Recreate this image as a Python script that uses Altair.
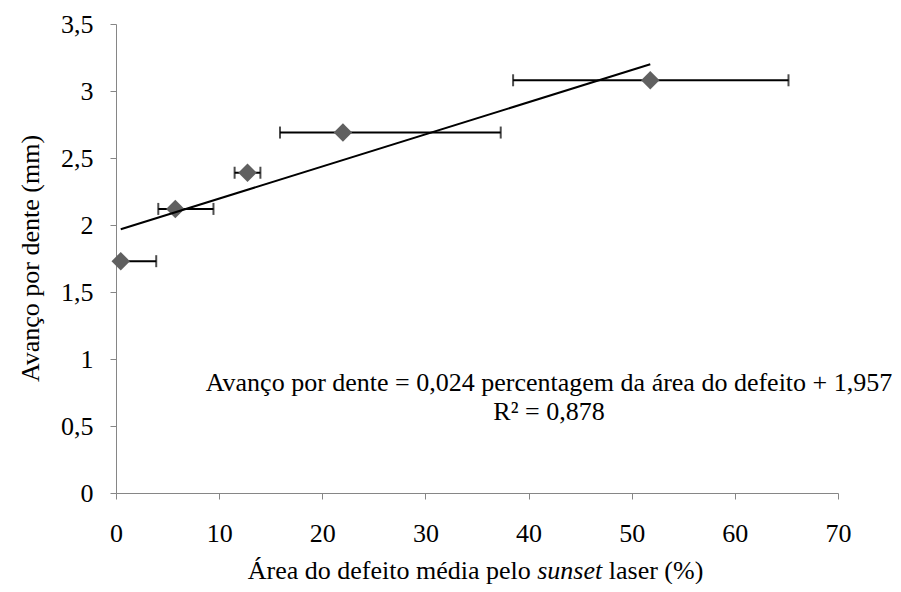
import altair as alt
import pandas as pd

# Data
area_pct = [0.46, 5.75, 12.75, 22.0, 51.8]       # x: mean defect area (%)
avanco = [1.73, 2.12, 2.39, 2.69, 3.08]          # y: feed per tooth (mm)
err_low = [0.46, 4.1, 11.5, 15.9, 38.5]          # lower end of x error bar
err_high = [3.9, 9.45, 14.0, 37.3, 65.2]         # upper end of x error bar

eq_text = "Avanço por dente = 0,024 percentagem da área do defeito + 1,957"
r2_text = "R² = 0,878"
x_title_a = "Área do defeito média pelo"
x_title_b = "sunset"
x_title_c = "laser (%)"
y_title = "Avanço por dente (mm)"

FONT = "Liberation Serif"
FS = 26

df = pd.DataFrame({"x": area_pct, "y": avanco, "lo": err_low, "hi": err_high})

xscale = alt.Scale(domain=[0, 70], nice=False, zero=False)
yscale = alt.Scale(domain=[0, 3.5], nice=False)

xaxis = alt.Axis(
    title=None, values=[0, 10, 20, 30, 40, 50, 60, 70], grid=False, labelFlush=False,
    domainColor="#868686", tickColor="#868686", tickSize=6,
    labelFont=FONT, labelFontSize=FS, labelColor="black", labelPadding=21,
    labelExpr="replace(format(datum.value,'~g'),'.',',')",
)
yaxis = alt.Axis(
    title=y_title, values=[0, 0.5, 1, 1.5, 2, 2.5, 3, 3.5], grid=False, labelFlush=False,
    domainColor="#868686", tickColor="#868686", tickSize=6,
    labelFont=FONT, labelFontSize=FS, labelColor="black", labelPadding=17,
    labelExpr="replace(format(datum.value,'~g'),'.',',')",
    titleFont=FONT, titleFontSize=FS, titleFontWeight="normal", titleColor="black",
    titleX=-86, titleY=234, titleAngle=-90, titleAlign="center", titleBaseline="middle",
)

base = alt.Chart(df)

bars = base.mark_rule(color="black", strokeWidth=2).encode(
    x=alt.X("lo:Q", scale=xscale, axis=xaxis),
    x2="hi:Q",
    y=alt.Y("y:Q", scale=yscale, axis=yaxis),
)
cap_hi = base.mark_tick(color="black", thickness=2, size=12, orient="vertical").encode(
    x=alt.X("hi:Q", scale=xscale), y=alt.Y("y:Q", scale=yscale)
)
cap_lo = base.transform_filter("datum.lo < datum.x").mark_tick(
    color="black", thickness=2, size=12, orient="vertical"
).encode(x=alt.X("lo:Q", scale=xscale), y=alt.Y("y:Q", scale=yscale))

points = base.mark_point(shape="diamond", filled=True, size=340, color="#606060", opacity=1).encode(
    x=alt.X("x:Q", scale=xscale), y=alt.Y("y:Q", scale=yscale)
)

trend = base.transform_regression("x", "y").mark_line(color="black", strokeWidth=2).encode(
    x=alt.X("x:Q", scale=xscale), y=alt.Y("y:Q", scale=yscale)
)

one = alt.Data(values=[{}])
eq = alt.Chart(one).mark_text(font=FONT, fontSize=FS, color="black", align="center", baseline="middle").encode(
    x=alt.value(433), y=alt.value(359), text=alt.value(eq_text)
)
r2 = alt.Chart(one).mark_text(font=FONT, fontSize=FS, color="black", align="center", baseline="middle").encode(
    x=alt.value(433), y=alt.value(388), text=alt.value(r2_text)
)
TY = 555
xt_a = alt.Chart(one).mark_text(font=FONT, fontSize=FS, color="black", align="right", baseline="alphabetic").encode(
    x=alt.value(414.75), y=alt.value(TY), text=alt.value(x_title_a)
)
xt_b = alt.Chart(one).mark_text(font=FONT, fontSize=FS, color="black", align="left", baseline="alphabetic",
                                fontStyle="italic").encode(
    x=alt.value(421.25), y=alt.value(TY), text=alt.value(x_title_b)
)
xt_c = alt.Chart(one).mark_text(font=FONT, fontSize=FS, color="black", align="left", baseline="alphabetic").encode(
    x=alt.value(492.75), y=alt.value(TY), text=alt.value(x_title_c)
)

chart = alt.layer(bars, cap_hi, cap_lo, points, trend, eq, r2, xt_a, xt_b, xt_c).properties(
    width=722, height=469,
    autosize=alt.AutoSizeParams(type="none"),
    padding={"left": 108, "top": 16, "right": 55, "bottom": 91},
).configure_view(stroke=None)

chart.save("out.html", embed_options={"renderer": "svg", "actions": False})
